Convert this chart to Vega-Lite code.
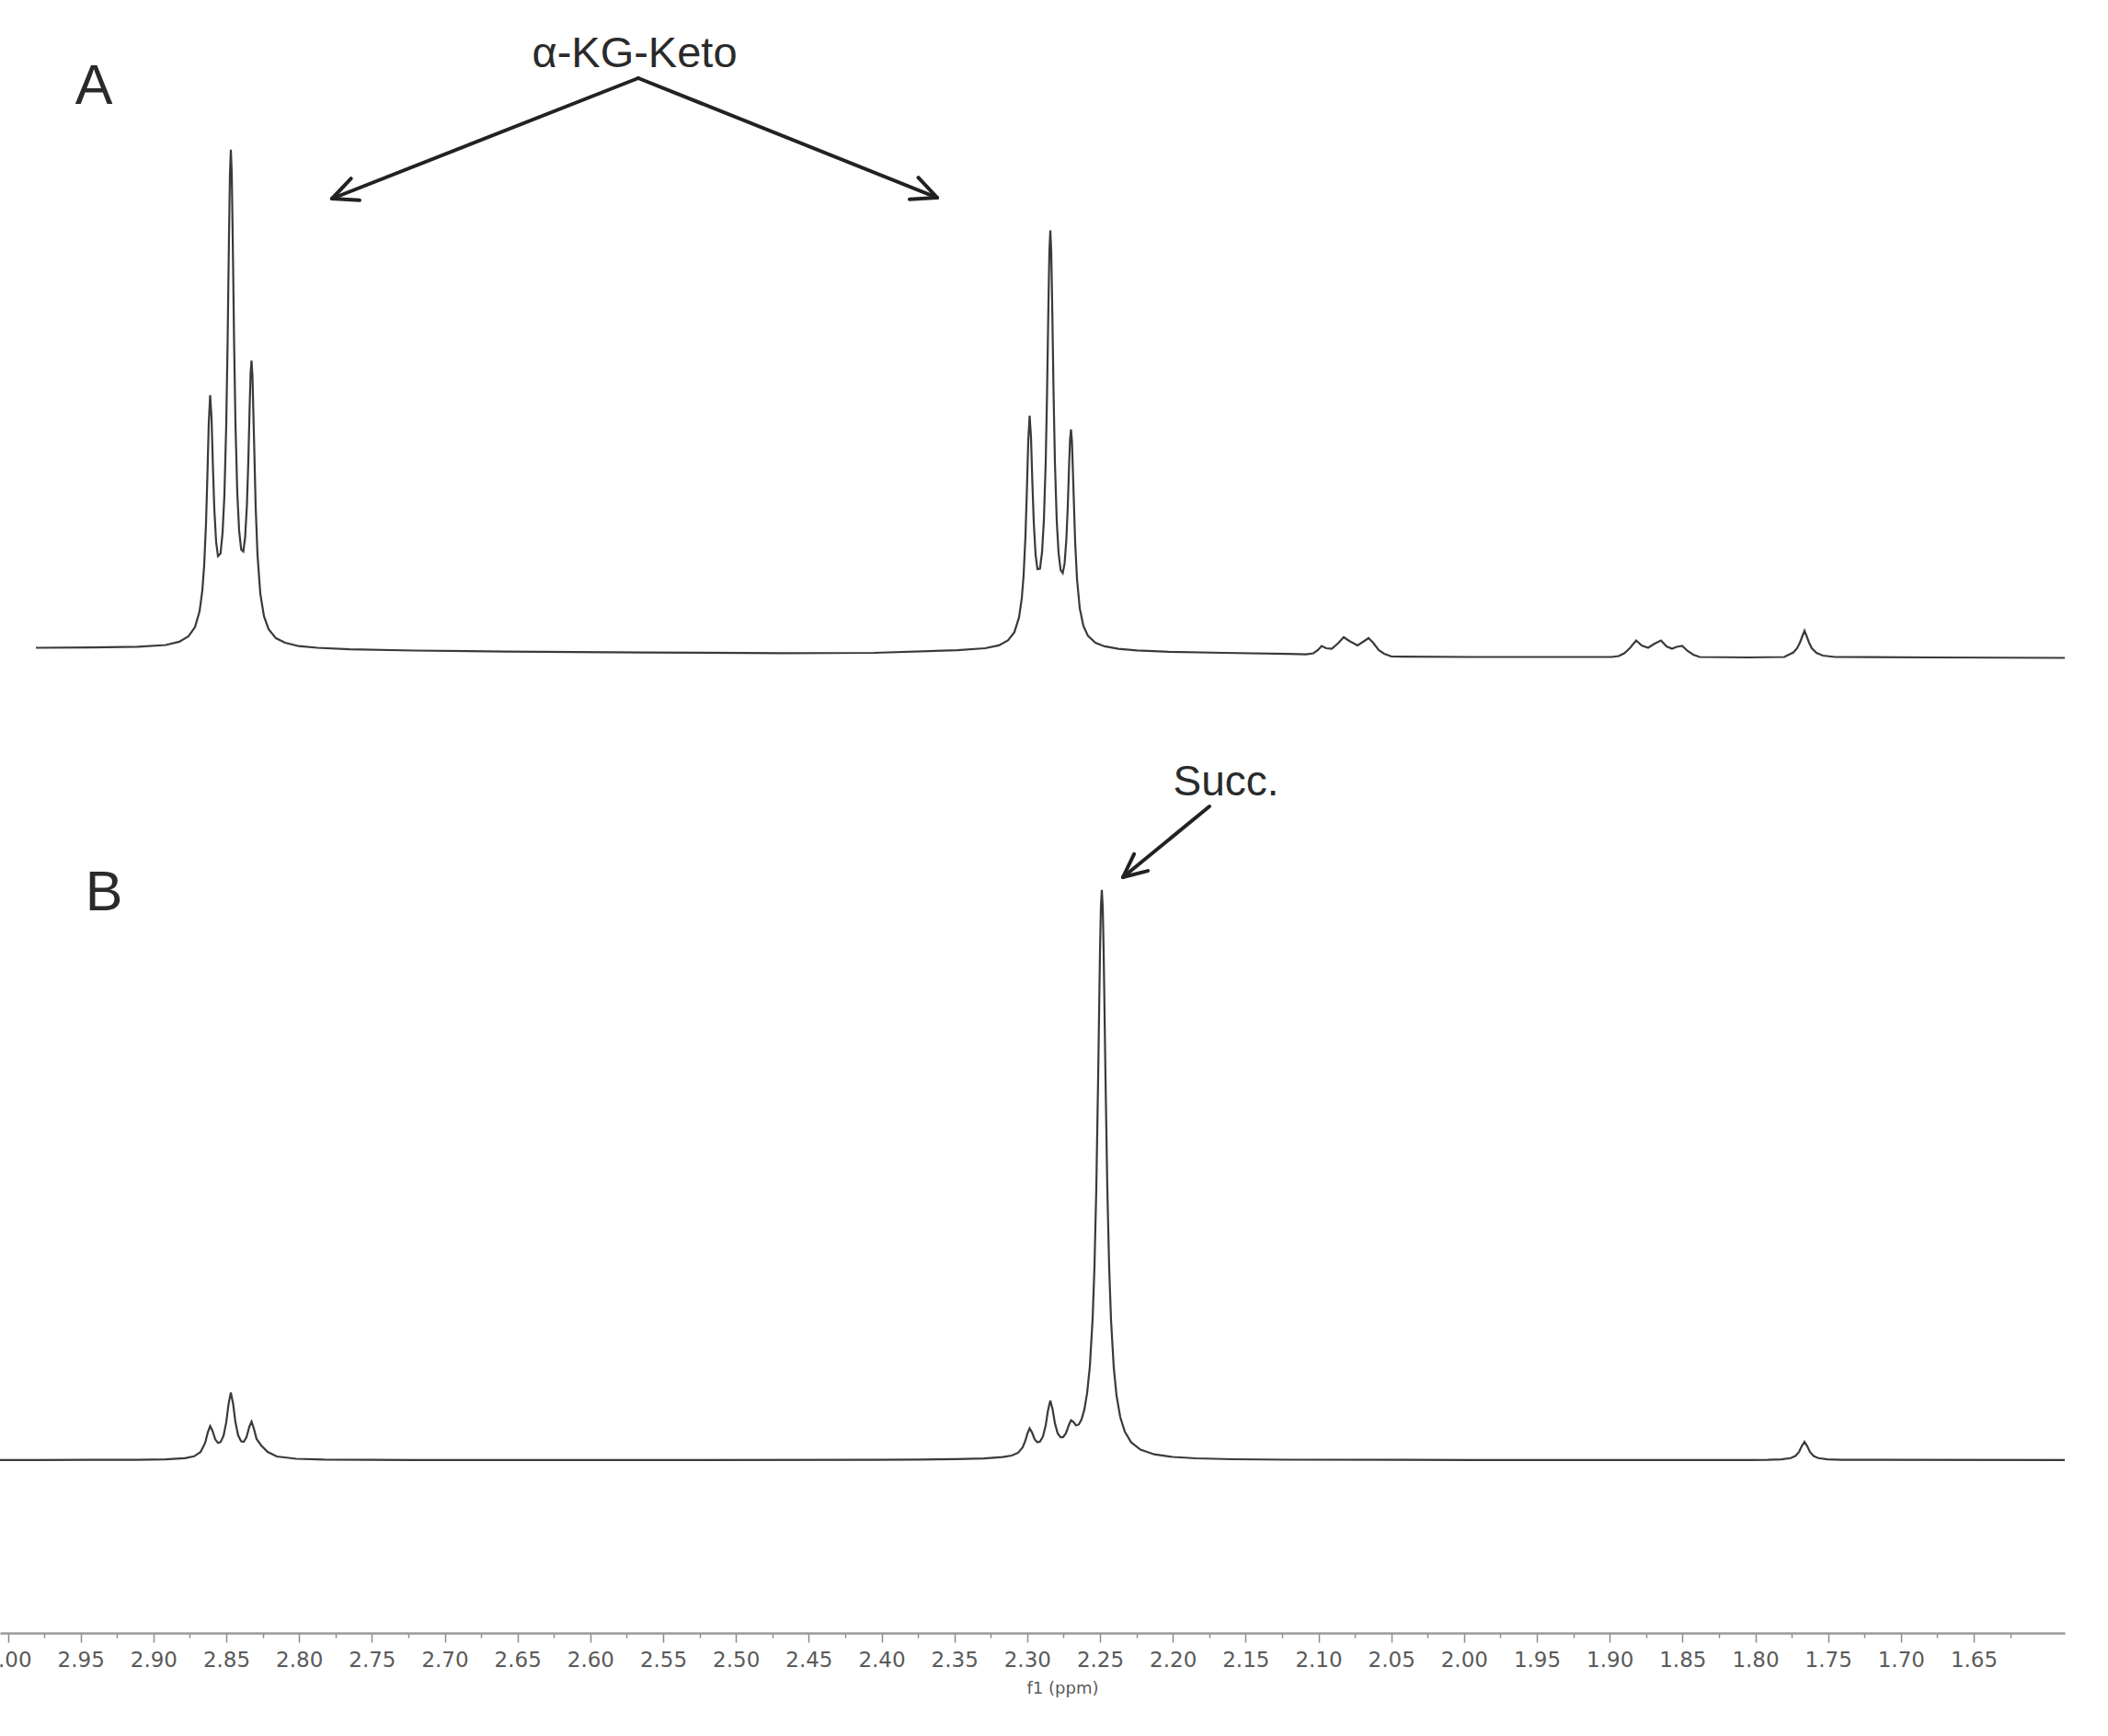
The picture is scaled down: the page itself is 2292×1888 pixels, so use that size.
{
  "$schema": "https://vega.github.io/schema/vega-lite/v6.json",
  "width": 2245,
  "height": 1776,
  "autosize": {"type": "none"},
  "padding": {"left": 0, "top": 0, "right": 47, "bottom": 112},
  "background": "white",
  "config": {"view": {"stroke": null}},
  "datasets": {
    "specA": [
      {"ppm":2.98076,"v":7.5},{"ppm":2.94223,"v":7.9},{"ppm":2.91065,"v":8.6},{"ppm":2.8917,"v":10.5},{"ppm":2.88223,"v":14.1},{"ppm":2.87591,"v":20.0},{"ppm":2.87149,"v":29.9},{"ppm":2.86833,"v":47.2},{"ppm":2.86644,"v":69.8},{"ppm":2.86518,"v":96.9},{"ppm":2.86391,"v":142.9},{"ppm":2.86297,"v":194.3},{"ppm":2.86202,"v":252.1},{"ppm":2.86107,"v":282.1},{"ppm":2.86012,"v":257.2},{"ppm":2.85918,"v":204.8},{"ppm":2.85823,"v":159.3},{"ppm":2.85697,"v":122.5},{"ppm":2.8557,"v":107.2},{"ppm":2.85396,"v":110.0},{"ppm":2.85255,"v":132.3},{"ppm":2.85128,"v":173.9},{"ppm":2.85002,"v":250.3},{"ppm":2.84907,"v":341.4},{"ppm":2.84812,"v":456.3},{"ppm":2.84749,"v":522.4},{"ppm":2.84686,"v":549.3},{"ppm":2.84623,"v":522.6},{"ppm":2.8456,"v":456.8},{"ppm":2.84465,"v":342.3},{"ppm":2.8437,"v":251.6},{"ppm":2.84244,"v":175.8},{"ppm":2.84118,"v":135.1},{"ppm":2.83976,"v":114.3},{"ppm":2.83833,"v":112.3},{"ppm":2.83707,"v":127.0},{"ppm":2.83581,"v":163.3},{"ppm":2.83486,"v":210.4},{"ppm":2.83391,"v":271.5},{"ppm":2.83328,"v":306.6},{"ppm":2.83265,"v":319.8},{"ppm":2.83202,"v":303.2},{"ppm":2.83107,"v":242.2},{"ppm":2.82981,"v":160.7},{"ppm":2.82854,"v":108.3},{"ppm":2.82665,"v":66.7},{"ppm":2.82412,"v":41.8},{"ppm":2.82097,"v":27.9},{"ppm":2.81591,"v":17.9},{"ppm":2.8096,"v":13.0},{"ppm":2.80012,"v":9.3},{"ppm":2.78749,"v":7.5},{"ppm":2.76539,"v":5.8},{"ppm":2.72117,"v":4.5},{"ppm":2.65802,"v":3.4},{"ppm":2.56328,"v":2.3},{"ppm":2.46854,"v":1.7},{"ppm":2.40538,"v":2.0},
      {"ppm":2.3479,"v":4.8},{"ppm":2.32896,"v":7.0},{"ppm":2.31948,"v":10.1},{"ppm":2.31317,"v":15.5},{"ppm":2.30875,"v":24.6},{"ppm":2.30559,"v":40.6},{"ppm":2.30369,"v":61.6},{"ppm":2.30243,"v":87.0},{"ppm":2.30117,"v":129.9},{"ppm":2.30022,"v":178.0},{"ppm":2.29927,"v":232.1},{"ppm":2.29832,"v":260.0},{"ppm":2.29738,"v":236.4},{"ppm":2.29643,"v":186.8},{"ppm":2.29548,"v":143.7},{"ppm":2.29422,"v":108.4},{"ppm":2.29296,"v":93.0},{"ppm":2.29122,"v":93.5},{"ppm":2.2898,"v":111.3},{"ppm":2.28854,"v":145.9},{"ppm":2.28727,"v":210.0},{"ppm":2.28633,"v":286.5},{"ppm":2.28538,"v":383.3},{"ppm":2.28475,"v":438.9},{"ppm":2.28411,"v":461.4},{"ppm":2.28348,"v":438.8},{"ppm":2.28285,"v":383.1},{"ppm":2.2819,"v":286.2},{"ppm":2.28096,"v":209.5},{"ppm":2.27969,"v":145.1},{"ppm":2.27843,"v":110.1},{"ppm":2.27701,"v":91.8},{"ppm":2.27559,"v":88.7},{"ppm":2.27432,"v":99.1},{"ppm":2.27306,"v":126.2},{"ppm":2.27211,"v":162.0},{"ppm":2.27117,"v":208.3},{"ppm":2.27053,"v":235.0},{"ppm":2.2699,"v":245.0},{"ppm":2.26927,"v":232.1},{"ppm":2.26832,"v":185.3},{"ppm":2.26706,"v":122.7},{"ppm":2.26579,"v":82.4},{"ppm":2.2639,"v":50.4},{"ppm":2.26138,"v":31.2},{"ppm":2.25822,"v":20.4},{"ppm":2.25317,"v":13.0},{"ppm":2.24685,"v":9.1},{"ppm":2.23738,"v":6.3},{"ppm":2.22474,"v":4.6},{"ppm":2.20264,"v":3.1},{"ppm":2.16538,"v":2.0},{"ppm":2.12116,"v":0.8},
      {"ppm":2.10853,"v":0.3},{"ppm":2.10348,"v":1.5},{"ppm":2.10032,"v":5.0},{"ppm":2.09779,"v":9.5},{"ppm":2.09464,"v":7.0},{"ppm":2.09085,"v":6.5},{"ppm":2.08643,"v":12.5},{"ppm":2.08264,"v":19.0},{"ppm":2.07885,"v":15.0},{"ppm":2.07316,"v":10.0},{"ppm":2.06937,"v":14.0},{"ppm":2.06558,"v":18.0},{"ppm":2.06243,"v":13.0},{"ppm":2.05864,"v":5.0},{"ppm":2.05485,"v":1.0},{"ppm":2.04979,"v":-2.0},{"ppm":1.99485,"v":-2.5},{"ppm":1.93169,"v":-2.5},{"ppm":1.89884,"v":-2.5},{"ppm":1.89379,"v":-1.5},{"ppm":1.89,"v":1.5},{"ppm":1.88621,"v":7.0},{"ppm":1.88179,"v":15.5},{"ppm":1.878,"v":10.0},{"ppm":1.87358,"v":7.5},{"ppm":1.86916,"v":12.0},{"ppm":1.86474,"v":15.5},{"ppm":1.86095,"v":9.0},{"ppm":1.85716,"v":6.5},{"ppm":1.854,"v":8.5},{"ppm":1.85021,"v":9.5},{"ppm":1.84642,"v":4.0},{"ppm":1.84263,"v":0.0},{"ppm":1.83821,"v":-2.5},{"ppm":1.80537,"v":-3.0},{"ppm":1.78011,"v":-2.5},{"ppm":1.77695,"v":0.0},{"ppm":1.77379,"v":2.5},{"ppm":1.77127,"v":7.0},{"ppm":1.76937,"v":13.0},{"ppm":1.76747,"v":21.0},{"ppm":1.76621,"v":26.0},{"ppm":1.76495,"v":21.0},{"ppm":1.76305,"v":13.0},{"ppm":1.76116,"v":7.0},{"ppm":1.758,"v":2.0},{"ppm":1.75358,"v":-1.0},{"ppm":1.74537,"v":-2.5},{"ppm":1.67905,"v":-3.0},{"ppm":1.58747,"v":-3.5}
    ],
    "specB": [
      {"ppm":3.00539,"v":0.2},{"ppm":2.98076,"v":0.2},{"ppm":2.94223,"v":0.3},{"ppm":2.91065,"v":0.4},{"ppm":2.8917,"v":0.9},{"ppm":2.87844,"v":2.2},{"ppm":2.87212,"v":4.2},{"ppm":2.8677,"v":8.8},{"ppm":2.86455,"v":18.6},{"ppm":2.86265,"v":30.3},{"ppm":2.86107,"v":37.0},{"ppm":2.85949,"v":32.0},{"ppm":2.8576,"v":22.7},{"ppm":2.8557,"v":18.7},{"ppm":2.85396,"v":19.6},{"ppm":2.85191,"v":26.3},{"ppm":2.85002,"v":41.1},{"ppm":2.84844,"v":60.9},{"ppm":2.84686,"v":73.6},{"ppm":2.84528,"v":61.0},{"ppm":2.8437,"v":41.3},{"ppm":2.84181,"v":26.7},{"ppm":2.83976,"v":20.4},{"ppm":2.83802,"v":20.0},{"ppm":2.83612,"v":25.0},{"ppm":2.83423,"v":36.1},{"ppm":2.83265,"v":42.0},{"ppm":2.83107,"v":34.4},{"ppm":2.82918,"v":23.0},{"ppm":2.82602,"v":16.0},{"ppm":2.8216,"v":9.0},{"ppm":2.81528,"v":4.0},{"ppm":2.80202,"v":1.5},{"ppm":2.78307,"v":0.6},{"ppm":2.72117,"v":0.2},{"ppm":2.56328,"v":0.1},{"ppm":2.40538,"v":0.4},
      {"ppm":2.3738,"v":0.7},{"ppm":2.34854,"v":1.1},{"ppm":2.32959,"v":1.9},{"ppm":2.31696,"v":3.3},{"ppm":2.31064,"v":5.0},{"ppm":2.30622,"v":8.1},{"ppm":2.30306,"v":14.0},{"ppm":2.30117,"v":21.5},{"ppm":2.2999,"v":28.6},{"ppm":2.29832,"v":34.5},{"ppm":2.29675,"v":30.4},{"ppm":2.29485,"v":22.6},{"ppm":2.29296,"v":19.4},{"ppm":2.29122,"v":20.2},{"ppm":2.28917,"v":25.8},{"ppm":2.28727,"v":38.0},{"ppm":2.28569,"v":54.2},{"ppm":2.28411,"v":64.8},{"ppm":2.28253,"v":55.2},{"ppm":2.28096,"v":40.1},{"ppm":2.27906,"v":29.1},{"ppm":2.27701,"v":24.8},{"ppm":2.27527,"v":25.1},{"ppm":2.27338,"v":29.3},{"ppm":2.27148,"v":37.8},{"ppm":2.2699,"v":43.4},{"ppm":2.26832,"v":41.6},{"ppm":2.26643,"v":37.8},{"ppm":2.26453,"v":38.8},{"ppm":2.26264,"v":44.4},{"ppm":2.26074,"v":55.1},{"ppm":2.25885,"v":72.8},{"ppm":2.25696,"v":102.2},{"ppm":2.25506,"v":153.8},{"ppm":2.2538,"v":210.1},{"ppm":2.25254,"v":295.2},{"ppm":2.25127,"v":416.1},{"ppm":2.25001,"v":552.4},{"ppm":2.24938,"v":601.7},{"ppm":2.24875,"v":620.1},{"ppm":2.24811,"v":601.5},{"ppm":2.24748,"v":552.2},{"ppm":2.24622,"v":415.7},{"ppm":2.24496,"v":294.5},{"ppm":2.24369,"v":209.1},{"ppm":2.24243,"v":152.5},{"ppm":2.24053,"v":100.4},{"ppm":2.23864,"v":70.2},{"ppm":2.23611,"v":47.0},{"ppm":2.23296,"v":31.0},{"ppm":2.22853,"v":19.3},{"ppm":2.22222,"v":11.4},{"ppm":2.21274,"v":6.3},{"ppm":2.20011,"v":3.5},{"ppm":2.18432,"v":2.0},{"ppm":2.15906,"v":1.0},{"ppm":2.12116,"v":0.5},{"ppm":1.99485,"v":0.2},{"ppm":1.80537,"v":0.2},
      {"ppm":1.79147,"v":0.4},{"ppm":1.782,"v":0.9},{"ppm":1.77569,"v":2.2},{"ppm":1.77253,"v":4.4},{"ppm":1.77,"v":8.8},{"ppm":1.76811,"v":15.2},{"ppm":1.76621,"v":20.0},{"ppm":1.76432,"v":15.2},{"ppm":1.76242,"v":8.8},{"ppm":1.75989,"v":4.4},{"ppm":1.75674,"v":2.2},{"ppm":1.75042,"v":0.9},{"ppm":1.74095,"v":0.4},{"ppm":1.58747,"v":0.2}
    ],
    "arrowsA": [
      {"ppm":2.56707,"v":627,"ppm2":2.77739,"v2":496},
      {"ppm":2.56707,"v":627,"ppm2":2.3618,"v2":497},
      {"ppm":2.77739,"v":496,"ppm2":2.7585,"v2":494.2},
      {"ppm":2.77739,"v":496,"ppm2":2.76431,"v2":517.8},
      {"ppm":2.3618,"v":497,"ppm2":2.37475,"v2":518.9},
      {"ppm":2.3618,"v":497,"ppm2":2.38075,"v2":495.3}
    ],
    "arrowB": [
      {"ppm":2.17485,"v":711,"ppm2":2.23422,"v2":634},
      {"ppm":2.23422,"v":634,"ppm2":2.2171,"v2":640.9},
      {"ppm":2.23422,"v":634,"ppm2":2.22658,"v2":659.2}
    ],
    "panelA": [{"ppm":2.94097,"v":599,"label":"A"}],
    "noteA": [{"ppm":2.56959,"v":639,"label":"α-KG-Keto"}],
    "panelB": [{"ppm":2.93402,"v":598,"label":"B"}],
    "noteB": [{"ppm":2.16348,"v":723,"label":"Succ."}]
  },
  "encoding": {
    "x": {
      "field": "ppm",
      "type": "quantitative",
      "scale": {"domain": [1.58747, 3.00539], "reverse": true, "nice": false, "zero": false},
      "axis": {
        "values": [3.0,2.975,2.95,2.925,2.9,2.875,2.85,2.825,2.8,2.775,2.75,2.725,2.7,2.675,2.65,2.625,2.6,2.575,2.55,2.525,2.5,2.475,2.45,2.425,2.4,2.375,2.35,2.325,2.3,2.275,2.25,2.225,2.2,2.175,2.15,2.125,2.1,2.075,2.05,2.025,2.0,1.975,1.95,1.925,1.9,1.875,1.85,1.825,1.8,1.775,1.75,1.725,1.7,1.675,1.65,1.625],
        "labelExpr": "round(datum.value * 1000) % 50 == 0 ? format(datum.value, '.2f') : ''",
        "tickSize": {"condition": {"test": "round(datum.value * 1000) % 50 == 0", "value": 10}, "value": 5},
        "grid": false,
        "domainColor": "#9a9a9a",
        "domainWidth": 2.5,
        "tickColor": "#8a8a8a",
        "tickWidth": 1.5,
        "labelFont": "DejaVu Sans",
        "labelFontSize": 23,
        "labelColor": "#5a5a5a",
        "labelPadding": 8,
        "labelFlush": false,
        "labelOverlap": false,
        "labelBound": false,
        "title": "f1 (ppm)",
        "titleFont": "DejaVu Sans",
        "titleFontSize": 18,
        "titleFontWeight": "normal",
        "titleColor": "#5a5a5a",
        "titlePadding": 10,
        "titleX": 1155
      }
    }
  },
  "layer": [
    {
      "layer": [
        {
          "data": {"name": "specA"},
          "mark": {"type": "line", "color": "#3a3a3a", "strokeWidth": 2.2},
          "encoding": {"y": {"field": "v", "type": "quantitative", "scale": {"domain": [-1064, 712], "nice": false, "zero": false}, "axis": null}}
        },
        {
          "data": {"name": "arrowsA"},
          "mark": {"type": "rule", "color": "#222222", "strokeWidth": 4, "strokeCap": "round"},
          "encoding": {
            "y": {"field": "v", "type": "quantitative", "scale": {"domain": [-1064, 712], "nice": false, "zero": false}, "axis": null},
            "y2": {"field": "v2"},
            "x2": {"field": "ppm2"}
          }
        },
        {
          "data": {"name": "panelA"},
          "mark": {"type": "text", "font": "Liberation Sans", "fontSize": 61, "align": "center", "baseline": "alphabetic", "color": "#2a2a2a"},
          "encoding": {
            "y": {"field": "v", "type": "quantitative", "scale": {"domain": [-1064, 712], "nice": false, "zero": false}, "axis": null},
            "text": {"field": "label"}
          }
        },
        {
          "data": {"name": "noteA"},
          "mark": {"type": "text", "font": "Liberation Sans", "fontSize": 47, "align": "center", "baseline": "alphabetic", "color": "#2a2a2a"},
          "encoding": {
            "y": {"field": "v", "type": "quantitative", "scale": {"domain": [-1064, 712], "nice": false, "zero": false}, "axis": null},
            "text": {"field": "label"}
          }
        }
      ]
    },
    {
      "layer": [
        {
          "data": {"name": "specB"},
          "mark": {"type": "line", "color": "#3a3a3a", "strokeWidth": 2.2},
          "encoding": {"y": {"field": "v", "type": "quantitative", "scale": {"domain": [-188, 1588], "nice": false, "zero": false}, "axis": null}}
        },
        {
          "data": {"name": "arrowB"},
          "mark": {"type": "rule", "color": "#222222", "strokeWidth": 4, "strokeCap": "round"},
          "encoding": {
            "y": {"field": "v", "type": "quantitative", "scale": {"domain": [-188, 1588], "nice": false, "zero": false}, "axis": null},
            "y2": {"field": "v2"},
            "x2": {"field": "ppm2"}
          }
        },
        {
          "data": {"name": "panelB"},
          "mark": {"type": "text", "font": "Liberation Sans", "fontSize": 61, "align": "center", "baseline": "alphabetic", "color": "#2a2a2a"},
          "encoding": {
            "y": {"field": "v", "type": "quantitative", "scale": {"domain": [-188, 1588], "nice": false, "zero": false}, "axis": null},
            "text": {"field": "label"}
          }
        },
        {
          "data": {"name": "noteB"},
          "mark": {"type": "text", "font": "Liberation Sans", "fontSize": 46, "align": "center", "baseline": "alphabetic", "color": "#2a2a2a"},
          "encoding": {
            "y": {"field": "v", "type": "quantitative", "scale": {"domain": [-188, 1588], "nice": false, "zero": false}, "axis": null},
            "text": {"field": "label"}
          }
        }
      ]
    }
  ],
  "resolve": {"scale": {"y": "independent"}}
}
